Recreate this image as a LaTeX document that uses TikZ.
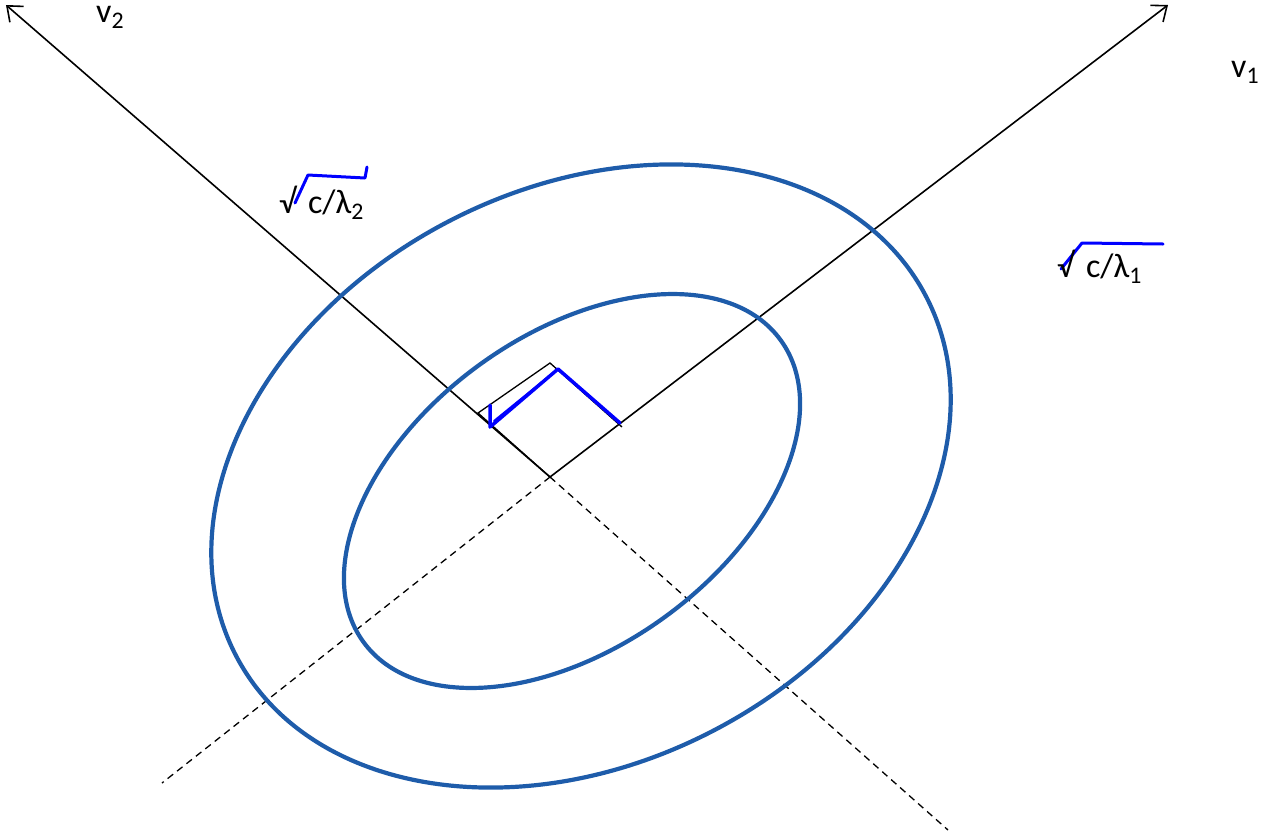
\documentclass[tikz,border=0pt]{standalone}
\usepackage{fontspec}
\setmainfont{Carlito}
\usepackage{tikz}
\usetikzlibrary{arrows.meta}
\definecolor{ellblue}{RGB}{30,92,170}

\begin{document}
\begin{tikzpicture}[x=1pt, y=1pt, every node/.style={font=\fontsize{34}{40}\selectfont, inner sep=0pt, anchor=base west}, >={Straight Barb[length=13pt, width=21pt]}]
	\useasboundingbox (0,0) rectangle (1268,-833);
	\coordinate (O) at (550,-477);
	\coordinate (v1tip) at (1168,-5);
	\coordinate (v2tip) at (6,-5);
	\coordinate (v1low) at (162,-783);
	\coordinate (v2low) at (948,-830);
	\draw[->, line width=1.6pt] (O) -- (v1tip);
	\draw[->, line width=1.6pt] (O) -- (v2tip);
	\draw[dashed, dash pattern=on 7pt off 5pt, line width=1.3pt] (O) -- (v1low);
	\draw[dashed, dash pattern=on 7pt off 5pt, line width=1.3pt] (O) -- (v2low);
	\draw[line width=1.3pt] (O) -- (478,-413) -- (550,-363) -- (622,-427);
	\draw[ellblue, line width=4.2pt] (581,-476) ellipse [x radius=389, y radius=287, rotate=27.5];
	\draw[ellblue, line width=4.2pt] (572,-491) ellipse [x radius=257.5, y radius=156.5, rotate=35.8];
	% hand-drawn marks
	\draw[blue, line width=3.5pt, line join=round, line cap=round] (490,-405) -- (490,-427) -- (558,-369) -- (620,-423);
	\draw[blue, line width=2pt, line cap=round] (494,-421) -- (553,-373);
	\draw[blue, line width=3pt, line join=round, line cap=round] (295,-203) -- (308,-175) -- (365,-178) -- (367,-167);
	\draw[blue, line width=3pt, line join=round, line cap=round] (1061,-269) -- (1082,-243) -- (1163,-244);
	\node (v2lab) at (96,-22) {v\textsubscript{2}};
	\node (v1lab) at (1231,-77) {v\textsubscript{1}};
	\node (lam2lab) at (279,-213) {√\hspace{0.35em}c/λ\textsubscript{2}};
	\node (lam1lab) at (1057,-277) {√\hspace{0.35em}c/λ\textsubscript{1}};
\end{tikzpicture}
\end{document}
